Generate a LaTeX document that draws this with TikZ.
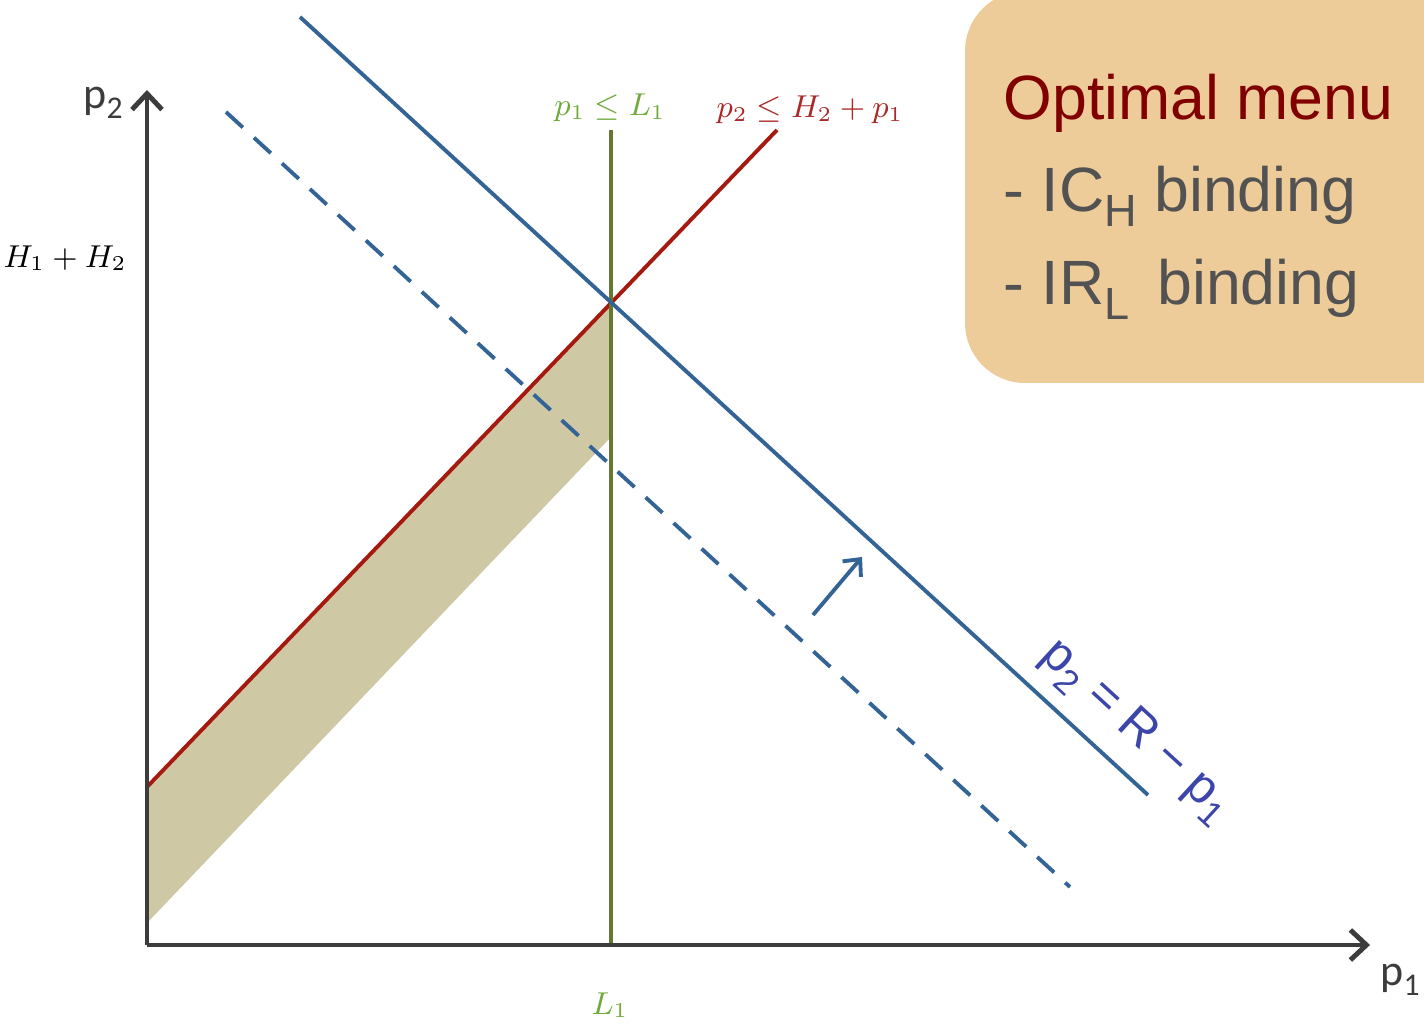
\documentclass[tikz,border=0pt]{standalone}
\usepackage{fontspec}
\usetikzlibrary{arrows.meta,positioning}
\newfontfamily\boxfont{Liberation Sans}
\newfontfamily\axisfont{Carlito}
\newcommand{\lowsub}[1]{\raisebox{-0.45ex}{\scalebox{0.72}{#1}}}

\definecolor{axisgray}{RGB}{60,60,60}
\definecolor{budgetblue}{RGB}{52,100,150}
\definecolor{icred}{RGB}{165,25,15}
\definecolor{irgreen}{RGB}{100,120,50}
\definecolor{greenlabel}{RGB}{112,170,60}
\definecolor{redlabel}{RGB}{170,40,40}
\definecolor{regiontan}{RGB}{207,200,164}
\definecolor{menubox}{RGB}{237,204,153}
\definecolor{menutitle}{RGB}{128,0,0}
\definecolor{menutext}{RGB}{82,82,82}
\definecolor{formulablue}{RGB}{60,70,170}

\begin{document}
\begin{tikzpicture}[
  x=0.01cm, y=0.01cm,
  axis/.style={draw=axisgray, line width=1.4pt, -{Straight Barb[length=1.6mm,width=3mm,line width=1.4pt]}},
  budget/.style={draw=budgetblue, line width=1.1pt},
  mathlabel/.style={font=\fontsize{9}{11}\selectfont, inner sep=1pt},
  menuline/.style={anchor=base west, inner sep=0pt, font=\boxfont\fontsize{17.8}{21}\selectfont}
]
\clip (0,0) rectangle (1424,1024);

% summary box
\fill[menubox, rounded corners=6mm] (965,641) rectangle (1520,1033);
\node[menuline, text=menutitle] (title) at (1003,904) {Optimal menu};
\node[menuline, text=menutext] (ich) at (1003,812) {- IC\lowsub{H} binding};
\node[menuline, text=menutext] (irl) at (1003,719) {- IR\lowsub{L}\, binding};

% key points
\coordinate (origin) at (147,79);
\coordinate (ytop) at (147,934);
\coordinate (xend) at (1370,79);
\coordinate (irtop) at (611,894);
\coordinate (irbot) at (611,79);
\coordinate (icstart) at (147,237);
\coordinate (icend) at (777,894);
\coordinate (corner) at (611,721);
\coordinate (lowright) at (611,587);
\coordinate (lowleft) at (147,101);
\coordinate (budgetstart) at (300,1007);
\coordinate (budgetend) at (1148,229);
\coordinate (oldstart) at (226,912);
\coordinate (oldend) at (1070,137);
\coordinate (shiftfrom) at (813,409);
\coordinate (shiftto) at (862,467);

% shaded region
\fill[regiontan] (icstart) -- (corner) -- (lowright) -- (lowleft) -- cycle;

% constraint lines
\draw[icred, line width=1.1pt] (icstart) -- (icend);
\draw[irgreen, line width=1pt] (irtop) -- (irbot);
\draw[budget] (budgetstart) -- (budgetend);
\draw[budget, dash pattern=on 6.5pt off 4.3pt] (oldstart) -- (oldend);
\draw[budget, -{Straight Barb[length=1.3mm,width=2.4mm,line width=1.1pt]}] (shiftfrom) -- (shiftto);

% axes
\draw[axis] (origin) -- (ytop);
\draw[axis] (origin) -- (xend);

% labels
\node[font=\axisfont\fontsize{12.5}{14}\selectfont, text=axisgray] (ylabel) at (103,921) {p\lowsub{2}};
\node[font=\axisfont\fontsize{12.5}{14}\selectfont, text=axisgray] (xlabel) at (1400,44) {p\lowsub{1}};
\node[mathlabel] (hsum) at (65,766) {$H_1+H_2$};
\node[mathlabel, text=greenlabel] (irlabel) at (610,916) {$p_1\leq L_1$};
\node[mathlabel, text=redlabel] (iclabel) at (810,914) {$p_2\leq H_2+p_1$};
\node[mathlabel, text=greenlabel] (lone) at (610,19) {$L_1$};
\node[font=\boxfont\fontsize{14}{16}\selectfont, text=formulablue, rotate=-42.5] (budgetlabel) at (1136,293) {p\lowsub{2} = R \char"2212\ p\lowsub{1}};
\end{tikzpicture}
\end{document}
